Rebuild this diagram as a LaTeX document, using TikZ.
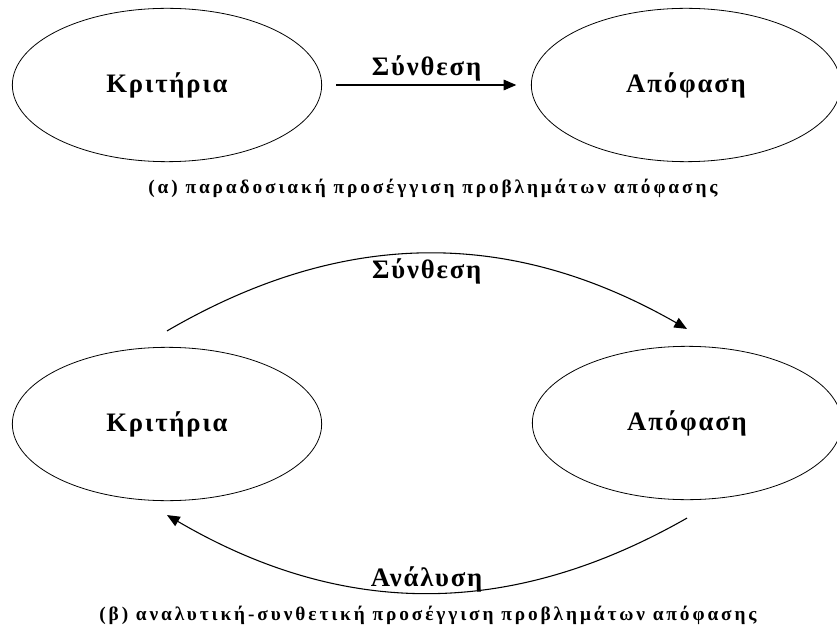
\documentclass[tikz,border=0pt]{standalone}
\usepackage{fontspec}
\setmainfont{Liberation Serif}
\newfontfamily\spacedfont{Liberation Serif}[LetterSpace=7]
\newfontfamily\captionfont{Liberation Serif}[LetterSpace=15]
\usetikzlibrary{shapes.geometric,arrows.meta,calc}
\tikzset{
	choice/.style={ellipse, draw, line width=0.6pt, minimum width=232pt, minimum height=115pt,
			font=\spacedfont\bfseries\fontsize{20}{22}\selectfont},
	flow/.style={line width=0.8pt, -{Triangle[length=9.5pt,width=8pt]}},
	flowlabel/.style={font=\spacedfont\bfseries\fontsize{20}{22}\selectfont, inner sep=0pt},
	caption/.style={font=\captionfont\bfseries\fontsize{14.5}{16}\selectfont, inner sep=0pt}
}

\begin{document}
\begin{tikzpicture}[x=0.75pt, y=-0.75pt]
	\useasboundingbox (0,0) rectangle (837,634);

	\node[choice] (crit1) at (167,85) {Κριτήρια};
	\node[choice] (apof1) at (686,85) {Απόφαση};
	\draw[flow, shorten <=10.5pt, shorten >=11pt] (crit1) -- node[flowlabel, above=2.5pt] (syn1) {Σύνθεση} (apof1);
	\node[caption] (capa) at (433,188) {(α) παραδοσιακή προσέγγιση προβλημάτων απόφασης};

	\node[choice] (crit2) at (167,424) {Κριτήρια};
	\node[choice] (apof2) at (687,423) {Απόφαση};
	\coordinate (synS) at ($(crit2.north)+(0,-16)$);
	\coordinate (synE) at ($(apof2.north)+(0,-17)$);
	\coordinate (anaS) at ($(apof2.south)+(0,18)$);
	\coordinate (anaE) at ($(crit2.south)+(0,14)$);
	\draw[flow] (synS) to[bend left=30] node[midway, below=3.5pt, flowlabel] (syn2) {Σύνθεση} (synE);
	\draw[flow] (anaS) to[bend left=30] node[midway, anchor=base, yshift=4.5pt, flowlabel] (ana) {Ανάλυση} (anaE);
	\node[caption] (capb) at (428,615) {(β) αναλυτική-συνθετική προσέγγιση προβλημάτων απόφασης};
\end{tikzpicture}
\end{document}
